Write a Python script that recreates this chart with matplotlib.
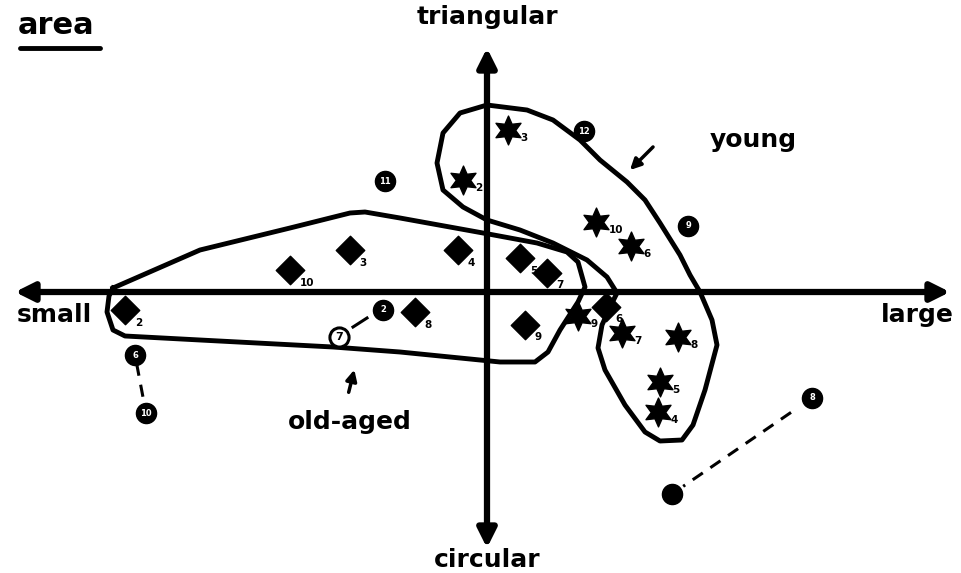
import matplotlib
matplotlib.use('Agg')
import matplotlib.pyplot as plt

# old-aged subjects (diamonds)
old_labels = ['2', '10', '3', '4', '5', '7', '8', '9', '6']
old_x = [-36.2, -19.7, -13.7, -2.9, 3.3, 6.0, -7.2, 3.8, 11.9]
old_y = [-1.8, 2.2, 4.2, 4.2, 3.4, 1.9, -2.0, -3.3, -1.5]

# young subjects (stars)
young_labels = ['3', '2', '10', '6', '9', '7', '8', '5', '4']
young_x = [2.1, -2.4, 10.9, 14.4, 9.1, 13.5, 19.1, 17.3, 17.1]
young_y = [16.2, 11.2, 7.0, 4.6, -2.4, -4.1, -4.5, -9.0, -12.0]

# circled reference points
ref_labels = ['11', '12', '9', '6', '10', '2', '8', '']
ref_x = [-10.2, 9.7, 20.1, -35.2, -34.1, -10.4, 32.5, 18.5]
ref_y = [11.1, 16.1, 6.6, -6.3, -12.1, -1.8, -10.6, -20.2]
open_x, open_y, open_label = -14.8, -4.5, '7'

# dashed links between reference points (index pairs)
links = [(3, 4), (6, 7)]

# group outlines
old_cx = [-37.4, -28.7, -19.7, -13.7, -12.2, -8.7, -0.4, 5.0, 8.0, 9.1, 9.8, 9.1, 7.3, 6.1,
          4.8, 1.3, -8.7, -15.4, -28.7, -36.2, -37.4, -38.0, -37.8, -37.4]
old_cy = [0.4, 4.2, 6.4, 7.9, 8.0, 7.4, 5.9, 4.9, 4.0, 3.0, 0.5, -1.0, -3.8, -6.0,
          -7.0, -7.0, -6.0, -5.5, -4.8, -4.4, -3.8, -2.0, -0.4, 0.4]
young_cx = [0.0, 4.0, 6.6, 9.3, 11.3, 14.0, 15.8, 17.3, 19.3, 20.3, 21.3, 22.5, 23.0, 21.8,
            20.6, 19.5, 17.3, 15.8, 13.8, 11.8, 11.1, 11.5, 12.5, 13.0, 12.0, 10.0, 6.6,
            3.3, 0.0, -2.4, -4.4, -5.0, -4.4, -2.7, 0.0]
young_cy = [18.7, 18.2, 17.2, 15.2, 13.2, 11.0, 9.2, 6.9, 3.7, 1.7, 0.0, -2.8, -5.3, -9.8,
            -13.3, -14.8, -14.9, -14.0, -11.3, -7.8, -5.6, -3.3, -1.1, -0.1, 1.5, 3.2, 4.9,
            6.2, 7.2, 8.5, 10.2, 12.9, 15.9, 17.9, 18.7]

fig = plt.figure(figsize=(9.61, 5.73), dpi=100)
ax = fig.add_axes([0, 0, 1, 1])
ax.set_xlim(-48.7, 47.4)
ax.set_ylim(-28.1, 29.2)
ax.axis('off')

bold = dict(fontweight='heavy', family='DejaVu Sans', color='black')

# axes with arrows
ax.annotate('', xy=(46.3, 0), xytext=(-47.2, 0),
            arrowprops=dict(arrowstyle='<|-|>', lw=4.5, color='black', mutation_scale=28,
                            shrinkA=0, shrinkB=0))
ax.annotate('', xy=(0, 24.4), xytext=(0, -25.6),
            arrowprops=dict(arrowstyle='<|-|>', lw=4.5, color='black', mutation_scale=28,
                            shrinkA=0, shrinkB=0))

ax.text(0, 27.5, 'triangular', ha='center', va='center', fontsize=18, **bold)
ax.text(0, -26.8, 'circular', ha='center', va='center', fontsize=18, **bold)
ax.text(-43.3, -2.3, 'small', ha='center', va='center', fontsize=18, **bold)
ax.text(43.0, -2.3, 'large', ha='center', va='center', fontsize=18, **bold)
ax.text(-46.9, 26.7, 'area', ha='left', va='center', fontsize=22, **bold)
ax.plot([-46.7, -38.7], [24.4, 24.4], color='black', lw=3.5, solid_capstyle='round')

# outlines
ax.plot(old_cx, old_cy, color='black', lw=3.5, solid_joinstyle='round')
ax.plot(young_cx, young_cy, color='black', lw=3.5, solid_joinstyle='round')

ax.text(22.3, 15.2, 'young', ha='left', va='center', fontsize=18, **bold)
ax.annotate('', xy=(14.1, 12.0), xytext=(16.8, 14.7),
            arrowprops=dict(arrowstyle='-|>', lw=2.5, color='black', mutation_scale=16))
ax.text(-13.7, -13.0, 'old-aged', ha='center', va='center', fontsize=18, **bold)
ax.annotate('', xy=(-13.2, -7.5), xytext=(-13.9, -10.3),
            arrowprops=dict(arrowstyle='-|>', lw=2.5, color='black', mutation_scale=16))

# dashed links (trimmed so they stop short of the circles)
for i, j in links:
    dx, dy = ref_x[j] - ref_x[i], ref_y[j] - ref_y[i]
    ax.plot([ref_x[i] + 0.15 * dx, ref_x[j] - 0.08 * dx],
            [ref_y[i] + 0.15 * dy, ref_y[j] - 0.08 * dy],
            color='black', lw=2.2, dashes=(4, 3), zorder=2)
ax.plot([ref_x[5] - 1.6, open_x + 1.4], [ref_y[5] - 0.8, open_y + 1.0], color='black',
        lw=2.2, zorder=2)

# markers
ax.scatter(old_x, old_y, marker='D', s=210, color='black', zorder=4)
for lab, x, y in zip(old_labels, old_x, old_y):
    ax.annotate(lab, (x, y), xytext=(7, -9), textcoords='offset points',
                fontsize=7.5, ha='left', va='center', **bold)

ax.scatter(young_x, young_y, marker=(6, 1, 0), s=430, color='black', zorder=4)
for lab, x, y in zip(young_labels, young_x, young_y):
    ax.annotate(lab, (x, y), xytext=(9, -6), textcoords='offset points',
                fontsize=7.5, ha='left', va='center', **bold)

ax.scatter(ref_x, ref_y, marker='o', s=210, color='black', zorder=4)
for lab, x, y in zip(ref_labels, ref_x, ref_y):
    ax.text(x, y, lab, fontsize=6, ha='center', va='center', color='white',
            fontweight='bold', zorder=5)
ax.scatter([open_x], [open_y], marker='o', s=190, facecolor='white', edgecolor='black',
           linewidth=2.2, zorder=4)
ax.text(open_x, open_y, open_label, fontsize=8, ha='center', va='center', zorder=5, **bold)

fig.savefig('out.png', dpi=100, facecolor='white')
